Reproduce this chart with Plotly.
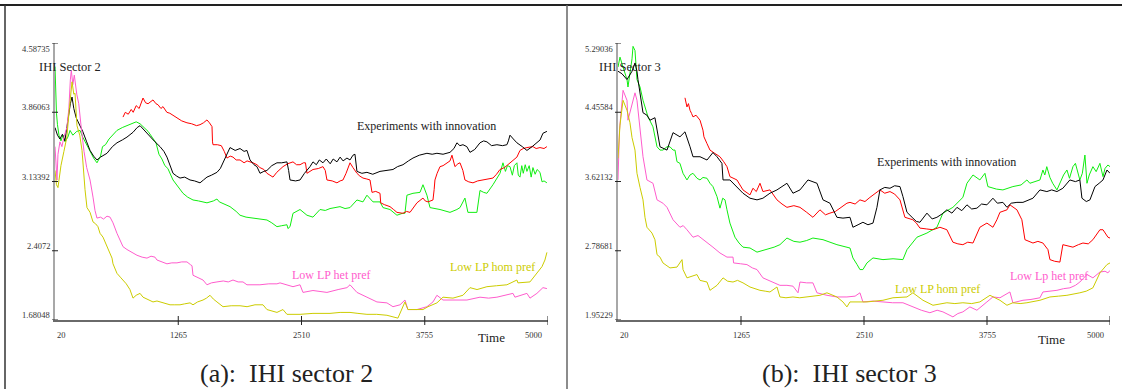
import plotly.graph_objects as go

W, H = 1122, 389

# ---------------- data: IHI sector 2 (time, index) ----------------
s2_innovation = [
    (20, 3.70), (45, 3.62), (70, 3.58), (95, 3.63), (120, 3.56), (150, 3.78), (175, 3.95), (192, 4.02),
    (210, 3.90), (235, 3.80), (273, 3.72), (300, 3.66), (340, 3.55), (374, 3.46), (410, 3.40), (444, 3.36),
    (480, 3.39), (515, 3.41), (545, 3.43), (600, 3.50), (646, 3.54), (700, 3.57), (747, 3.60), (808, 3.65),
    (850, 3.70), (879, 3.72), (930, 3.66), (980, 3.60), (1030, 3.55), (1081, 3.50), (1120, 3.45), (1151, 3.39),
    (1180, 3.30), (1212, 3.22), (1250, 3.19), (1283, 3.17), (1330, 3.18), (1384, 3.15), (1430, 3.14), (1485, 3.12),
    (1520, 3.15), (1555, 3.18), (1600, 3.20), (1656, 3.23), (1690, 3.27), (1717, 3.33), (1750, 3.42), (1788, 3.49),
    (1840, 3.46), (1889, 3.48), (1930, 3.45), (1959, 3.46), (1990, 3.36), (2030, 3.31), (2060, 3.29), (2091, 3.22),
    (2130, 3.24), (2161, 3.25), (2210, 3.30), (2262, 3.33), (2310, 3.33), (2363, 3.34), (2380, 3.25), (2394, 3.15),
    (2450, 3.14), (2495, 3.15), (2540, 3.22), (2596, 3.29), (2626, 3.34), (2660, 3.31), (2690, 3.36), (2727, 3.33),
    (2760, 3.37), (2800, 3.32), (2830, 3.37), (2868, 3.34), (2900, 3.39), (2930, 3.35), (2969, 3.38), (3000, 3.36),
    (3030, 3.41), (3050, 3.42), (3070, 3.24), (3120, 3.22), (3171, 3.23), (3230, 3.21), (3303, 3.24), (3370, 3.25),
    (3434, 3.26), (3480, 3.29), (3535, 3.31), (3590, 3.35), (3636, 3.38), (3700, 3.41), (3777, 3.43), (3830, 3.42),
    (3878, 3.43), (3940, 3.42), (4010, 3.44), (4050, 3.48), (4080, 3.54), (4110, 3.51), (4141, 3.52), (4180, 3.50),
    (4212, 3.44), (4260, 3.47), (4313, 3.54), (4350, 3.56), (4383, 3.55), (4430, 3.51), (4484, 3.52), (4540, 3.51),
    (4585, 3.52), (4600, 3.56), (4616, 3.62), (4650, 3.58), (4686, 3.54), (4740, 3.50), (4787, 3.46), (4840, 3.50),
    (4888, 3.54), (4920, 3.57), (4949, 3.64), (4989, 3.66),
]

s2_red_run = [
    (707, 3.81), (730, 3.86), (760, 3.84), (790, 3.89), (810, 3.86), (840, 3.93), (870, 3.90), (909, 4.01),
    (935, 3.96), (960, 3.95), (1010, 3.99), (1040, 3.95), (1060, 3.94), (1090, 3.90), (1111, 3.92), (1150, 3.86),
    (1180, 3.85), (1212, 3.83), (1250, 3.80), (1300, 3.77), (1353, 3.75), (1400, 3.74), (1450, 3.72), (1485, 3.73),
    (1520, 3.75), (1555, 3.78), (1580, 3.75), (1606, 3.71), (1611, 3.55), (1616, 3.52), (1660, 3.52), (1700, 3.51),
    (1730, 3.45), (1757, 3.38), (1790, 3.40), (1818, 3.39), (1850, 3.36), (1889, 3.36), (1930, 3.33), (1960, 3.35),
    (2020, 3.33), (2060, 3.31), (2090, 3.28), (2130, 3.26), (2161, 3.22), (2222, 3.18), (2260, 3.23), (2323, 3.29),
    (2370, 3.32), (2424, 3.34), (2460, 3.31), (2495, 3.31), (2530, 3.33), (2550, 3.33), (2565, 3.22), (2600, 3.24),
    (2626, 3.26), (2680, 3.27), (2727, 3.29), (2750, 3.25), (2767, 3.15), (2820, 3.14), (2868, 3.12), (2900, 3.14),
    (2929, 3.15), (2960, 3.22), (3000, 3.33), (3030, 3.28), (3070, 3.22), (3100, 3.19), (3131, 3.17), (3170, 3.16),
    (3202, 3.15), (3222, 3.02), (3260, 3.03), (3303, 3.01), (3310, 2.91), (3350, 2.89), (3404, 2.87), (3440, 2.84),
    (3474, 2.81), (3535, 2.80), (3570, 2.82), (3606, 2.81), (3640, 2.86), (3676, 2.91), (3737, 2.96), (3760, 2.93),
    (3788, 2.92), (3838, 2.94), (3850, 3.05), (3858, 3.15), (3880, 3.22), (3909, 3.29), (3940, 3.30), (3979, 3.33),
    (4010, 3.35), (4030, 3.41), (4045, 3.33), (4060, 3.29), (4090, 3.32), (4111, 3.33), (4140, 3.25), (4161, 3.15),
    (4200, 3.13), (4242, 3.12), (4290, 3.14), (4343, 3.15), (4400, 3.16), (4444, 3.17), (4480, 3.21), (4515, 3.26),
    (4560, 3.28), (4616, 3.33), (4660, 3.37), (4686, 3.39), (4717, 3.46), (4750, 3.48), (4787, 3.49), (4848, 3.50),
    (4880, 3.48), (4919, 3.49), (4960, 3.48), (4989, 3.50),
]

s2_green_run = [
    (20, 4.34), (25, 4.10), (35, 3.85), (45, 3.73), (60, 3.62), (80, 3.56), (100, 3.62), (121, 3.55),
    (150, 3.60), (172, 3.67), (200, 3.62), (240, 3.66), (273, 3.67), (300, 3.60), (340, 3.52), (374, 3.44),
    (410, 3.38), (444, 3.33), (480, 3.40), (500, 3.50), (530, 3.52), (566, 3.58), (600, 3.62), (646, 3.67),
    (700, 3.70), (747, 3.72), (808, 3.75), (840, 3.76), (879, 3.74), (920, 3.70), (960, 3.66), (1000, 3.60),
    (1040, 3.54), (1070, 3.42), (1100, 3.37), (1130, 3.30), (1160, 3.27), (1212, 3.15), (1260, 3.08), (1313, 3.01),
    (1360, 2.97), (1414, 2.94), (1470, 2.93), (1555, 2.91), (1620, 2.93), (1656, 2.95), (1680, 2.92), (1750, 2.89),
    (1788, 2.87), (1850, 2.82), (1889, 2.78), (1950, 2.76), (2020, 2.75), (2090, 2.74), (2161, 2.73), (2210, 2.70),
    (2262, 2.66), (2310, 2.67), (2363, 2.68), (2373, 2.64), (2394, 2.66), (2424, 2.80), (2495, 2.84), (2565, 2.78),
    (2626, 2.76), (2697, 2.84), (2750, 2.83), (2798, 2.85), (2850, 2.86), (2899, 2.87), (2950, 2.85), (3000, 2.86),
    (3070, 2.94), (3131, 2.92), (3171, 2.99), (3232, 2.92), (3303, 2.92), (3333, 2.86), (3404, 2.84), (3474, 2.78),
    (3530, 2.80), (3555, 2.80), (3575, 2.99), (3636, 3.01), (3707, 3.02), (3737, 3.10), (3777, 2.99), (3808, 2.86),
    (3909, 2.84), (4010, 2.81), (4080, 2.84), (4111, 2.86), (4161, 2.96), (4191, 2.81), (4282, 2.81), (4313, 3.04),
    (4350, 3.02), (4383, 3.01), (4444, 3.10), (4480, 3.16), (4515, 3.22), (4545, 3.33), (4570, 3.24), (4590, 3.30),
    (4616, 3.29), (4640, 3.20), (4660, 3.30), (4686, 3.33), (4700, 3.20), (4717, 3.18), (4735, 3.30), (4750, 3.22),
    (4770, 3.31), (4787, 3.24), (4810, 3.30), (4830, 3.18), (4848, 3.28), (4870, 3.21), (4890, 3.26), (4919, 3.23),
    (4940, 3.13), (4960, 3.14), (4989, 3.12),
]

s2_low_lp_het = [
    (20, 3.50), (30, 3.35), (40, 3.15), (50, 3.42), (70, 3.55), (90, 3.50), (110, 3.60), (140, 3.70),
    (160, 3.90), (175, 4.20), (185, 4.30), (200, 4.15), (215, 4.25), (240, 4.05), (260, 3.95), (285, 3.70),
    (300, 3.55), (313, 3.45), (340, 3.28), (374, 3.15), (404, 2.97), (424, 2.83), (444, 2.75), (480, 2.76),
    (510, 2.74), (545, 2.77), (576, 2.76), (606, 2.70), (646, 2.59), (680, 2.52), (707, 2.45), (747, 2.42),
    (800, 2.39), (848, 2.36), (900, 2.34), (949, 2.33), (990, 2.35), (1030, 2.34), (1050, 2.31), (1100, 2.29),
    (1151, 2.27), (1200, 2.28), (1252, 2.28), (1300, 2.29), (1353, 2.29), (1390, 2.26), (1404, 2.25), (1414, 2.15),
    (1460, 2.13), (1515, 2.10), (1555, 2.05), (1600, 2.07), (1656, 2.08), (1720, 2.09), (1770, 2.08), (1818, 2.10),
    (1870, 2.08), (1919, 2.08), (1959, 2.05), (2020, 2.05), (2090, 2.05), (2180, 2.06), (2262, 2.06), (2293, 2.07),
    (2350, 2.05), (2424, 2.03), (2495, 2.05), (2525, 1.97), (2626, 1.99), (2700, 1.98), (2767, 1.97), (2880, 2.00),
    (2969, 2.02), (3000, 2.05), (3070, 1.97), (3171, 1.92), (3272, 1.87), (3373, 1.86), (3434, 1.82), (3505, 1.84),
    (3555, 1.89), (3585, 1.79), (3676, 1.79), (3777, 1.82), (3838, 1.87), (3878, 1.94), (3939, 1.89), (4040, 1.89),
    (4181, 1.89), (4313, 1.92), (4400, 1.91), (4484, 1.92), (4560, 1.94), (4646, 1.96), (4666, 1.92), (4730, 1.94),
    (4787, 1.96), (4818, 1.91), (4888, 1.96), (4949, 2.02), (4989, 2.01),
]

s2_low_lp_hom = [
    (20, 3.25), (35, 3.10), (50, 3.07), (80, 3.30), (110, 3.45), (140, 3.60), (165, 3.90), (192, 4.18),
    (210, 4.05), (222, 4.06), (242, 3.72), (270, 3.62), (293, 3.46), (303, 3.29), (323, 3.05), (343, 2.86),
    (374, 2.81), (404, 2.71), (430, 2.69), (454, 2.66), (475, 2.59), (505, 2.55), (545, 2.45), (575, 2.38),
    (596, 2.33), (606, 2.27), (626, 2.22), (646, 2.17), (680, 2.13), (707, 2.10), (740, 2.06), (777, 2.00),
    (808, 1.91), (840, 1.94), (879, 1.96), (909, 1.92), (950, 1.90), (1010, 1.87), (1050, 1.88), (1081, 1.87),
    (1130, 1.85), (1182, 1.84), (1230, 1.84), (1283, 1.84), (1330, 1.85), (1384, 1.86), (1414, 1.84), (1460, 1.87),
    (1515, 1.89), (1550, 1.91), (1586, 1.94), (1620, 1.90), (1656, 1.87), (1717, 1.82), (1800, 1.83), (1889, 1.83),
    (1960, 1.82), (2040, 1.84), (2121, 1.84), (2161, 1.79), (2262, 1.76), (2323, 1.79), (2363, 1.74), (2440, 1.74),
    (2495, 1.74), (2626, 1.75), (2798, 1.75), (2900, 1.76), (3000, 1.76), (3080, 1.75), (3171, 1.74), (3270, 1.74),
    (3373, 1.73), (3484, 1.70), (3505, 1.75), (3555, 1.87), (3585, 1.79), (3636, 1.79), (3737, 1.79), (3788, 1.82),
    (3878, 1.86), (3939, 1.92), (4040, 1.91), (4141, 1.94), (4212, 2.02), (4283, 2.00), (4383, 2.03), (4480, 2.04),
    (4585, 2.05), (4686, 2.10), (4696, 2.07), (4818, 2.08), (4888, 2.17), (4939, 2.24), (4969, 2.31), (4989, 2.39),
]

# ---------------- data: IHI sector 3 (time, index) ----------------
s3_innovation = [
    (20, 4.95), (60, 4.92), (111, 4.85), (162, 4.95), (192, 5.05), (212, 4.95), (222, 4.85), (273, 4.45),
    (313, 4.42), (344, 4.36), (394, 4.39), (415, 4.24), (430, 4.16), (445, 4.04), (516, 4.00), (577, 4.21),
    (647, 4.16), (698, 4.22), (749, 4.04), (779, 3.92), (850, 3.92), (921, 3.88), (981, 3.97), (1022, 3.92),
    (1072, 3.84), (1083, 3.64), (1153, 3.64), (1224, 3.56), (1285, 3.48), (1356, 3.42), (1427, 3.40), (1487, 3.42),
    (1558, 3.48), (1629, 3.52), (1680, 3.56), (1730, 3.60), (1791, 3.48), (1862, 3.52), (1943, 3.64), (2034, 3.60),
    (2095, 3.40), (2165, 3.36), (2236, 3.19), (2297, 3.18), (2368, 3.19), (2398, 3.07), (2450, 3.10), (2499, 3.13),
    (2550, 3.10), (2601, 3.12), (2641, 3.31), (2671, 3.52), (2720, 3.55), (2773, 3.54), (2820, 3.57), (2874, 3.56),
    (2904, 3.44), (2945, 3.25), (3005, 3.18), (3040, 3.14), (3076, 3.13), (3147, 3.24), (3200, 3.17), (3248, 3.19),
    (3300, 3.23), (3349, 3.28), (3400, 3.24), (3451, 3.31), (3500, 3.27), (3552, 3.34), (3600, 3.29), (3653, 3.30),
    (3700, 3.35), (3754, 3.34), (3815, 3.42), (3860, 3.36), (3916, 3.37), (3957, 3.31), (4000, 3.36), (4058, 3.37),
    (4119, 3.37), (4170, 3.40), (4220, 3.42), (4291, 3.52), (4361, 3.50), (4410, 3.52), (4463, 3.50), (4523, 3.54),
    (4594, 3.64), (4650, 3.62), (4695, 3.64), (4716, 3.42), (4760, 3.38), (4797, 3.40), (4848, 3.56), (4890, 3.60),
    (4929, 3.64), (4969, 3.76), (5000, 3.72),
]

s3_red_run = [
    (698, 4.63), (708, 4.55), (718, 4.52), (733, 4.56), (749, 4.48), (765, 4.44), (779, 4.40), (810, 4.42),
    (850, 4.36), (880, 4.24), (890, 4.16), (920, 4.08), (951, 4.00), (1000, 3.96), (1052, 3.92), (1090, 3.86),
    (1123, 3.80), (1153, 3.68), (1224, 3.64), (1285, 3.52), (1356, 3.46), (1386, 3.54), (1420, 3.50), (1457, 3.60),
    (1487, 3.50), (1558, 3.52), (1600, 3.44), (1629, 3.40), (1680, 3.35), (1730, 3.31), (1800, 3.33), (1862, 3.31),
    (1930, 3.25), (1993, 3.19), (2064, 3.28), (2120, 3.22), (2165, 3.24), (2220, 3.26), (2267, 3.30), (2337, 3.36),
    (2368, 3.37), (2420, 3.35), (2469, 3.40), (2520, 3.38), (2570, 3.43), (2620, 3.47), (2671, 3.52), (2720, 3.48),
    (2773, 3.50), (2820, 3.47), (2874, 3.40), (2924, 3.19), (3005, 3.16), (3040, 3.12), (3076, 3.06), (3140, 3.05),
    (3208, 3.04), (3279, 3.07), (3349, 3.04), (3410, 2.89), (3460, 2.87), (3511, 2.86), (3560, 2.89), (3613, 2.88),
    (3683, 3.07), (3754, 3.12), (3815, 3.07), (3855, 3.16), (3886, 3.25), (3957, 3.28), (3987, 3.34), (4058, 3.28),
    (4108, 3.16), (4139, 2.92), (4220, 2.88), (4270, 2.90), (4321, 2.88), (4372, 2.80), (4392, 2.68), (4440, 2.66),
    (4493, 2.65), (4523, 2.86), (4580, 2.84), (4625, 2.83), (4680, 2.86), (4726, 2.88), (4780, 2.87), (4827, 2.92),
    (4898, 3.04), (4929, 3.04), (4979, 2.95), (5000, 2.94),
]

s3_green_run = [
    (20, 5.00), (40, 5.12), (71, 5.00), (111, 4.85), (121, 4.76), (141, 4.90), (162, 5.10), (172, 5.25),
    (182, 5.22), (192, 5.20), (212, 4.85), (243, 4.76), (273, 4.60), (324, 4.40), (374, 4.28), (415, 4.04),
    (445, 4.00), (475, 4.00), (516, 4.04), (546, 4.04), (577, 4.00), (597, 4.00), (617, 3.86), (647, 3.84),
    (678, 3.72), (718, 3.64), (749, 3.70), (779, 3.72), (820, 3.66), (850, 3.64), (880, 3.67), (921, 3.66),
    (951, 3.60), (981, 3.56), (1022, 3.44), (1052, 3.30), (1080, 3.42), (1103, 3.40), (1123, 3.28), (1153, 3.12),
    (1204, 2.95), (1245, 2.88), (1285, 2.83), (1356, 2.82), (1427, 2.77), (1528, 2.80), (1600, 2.83), (1659, 2.86),
    (1730, 2.94), (1800, 2.90), (1862, 2.89), (1930, 2.91), (1993, 2.94), (2095, 2.92), (2165, 2.89), (2236, 2.86),
    (2368, 2.82), (2398, 2.70), (2440, 2.62), (2469, 2.56), (2499, 2.56), (2540, 2.64), (2601, 2.70), (2702, 2.68),
    (2804, 2.69), (2904, 2.68), (2945, 2.80), (3046, 2.95), (3147, 3.00), (3248, 3.07), (3309, 3.24), (3410, 3.31),
    (3511, 3.43), (3552, 3.60), (3613, 3.70), (3683, 3.64), (3734, 3.72), (3764, 3.56), (3850, 3.53), (3916, 3.52),
    (4017, 3.56), (4100, 3.58), (4159, 3.64), (4189, 3.60), (4291, 3.64), (4321, 3.76), (4340, 3.70), (4360, 3.80),
    (4392, 3.67), (4420, 3.60), (4463, 3.52), (4493, 3.60), (4530, 3.70), (4564, 3.76), (4590, 3.66), (4625, 3.80),
    (4650, 3.84), (4695, 3.64), (4720, 3.72), (4746, 3.94), (4767, 3.60), (4790, 3.70), (4827, 3.80), (4860, 3.74),
    (4898, 3.84), (4929, 3.68), (4950, 3.78), (4979, 3.82), (5000, 3.80),
]

s3_low_lp_het = [
    (20, 3.64), (25, 4.00), (35, 4.24), (71, 4.72), (111, 4.60), (121, 4.36), (162, 4.57), (192, 4.69),
    (212, 4.60), (233, 4.36), (253, 4.10), (273, 3.92), (313, 3.64), (374, 3.60), (415, 3.40), (475, 3.36),
    (516, 3.31), (577, 3.16), (647, 3.07), (680, 3.09), (718, 3.04), (779, 2.95), (830, 2.97), (880, 2.92),
    (930, 2.88), (981, 2.83), (1052, 2.76), (1123, 2.71), (1184, 2.71), (1190, 2.64), (1260, 2.63), (1325, 2.62),
    (1380, 2.58), (1427, 2.56), (1487, 2.46), (1540, 2.43), (1589, 2.40), (1659, 2.37), (1730, 2.37), (1791, 2.36),
    (1842, 2.28), (1862, 2.41), (1930, 2.40), (1993, 2.40), (2034, 2.28), (2135, 2.25), (2236, 2.23), (2337, 2.23),
    (2420, 2.24), (2469, 2.28), (2499, 2.17), (2600, 2.18), (2702, 2.17), (2800, 2.16), (2904, 2.16), (3005, 2.11),
    (3090, 2.07), (3177, 2.04), (3250, 2.07), (3309, 2.05), (3360, 2.02), (3410, 1.99), (3460, 2.03), (3511, 2.05),
    (3582, 2.11), (3653, 2.07), (3754, 2.17), (3815, 2.23), (3886, 2.22), (3950, 2.26), (3987, 2.29), (4017, 2.16),
    (4119, 2.19), (4200, 2.20), (4291, 2.22), (4321, 2.29), (4390, 2.30), (4463, 2.31), (4530, 2.33), (4594, 2.34),
    (4650, 2.37), (4695, 2.41), (4767, 2.50), (4827, 2.46), (4898, 2.53), (4950, 2.54), (4979, 2.52), (5000, 2.55),
]

s3_low_lp_hom = [
    (20, 3.90), (40, 4.30), (71, 4.60), (111, 4.48), (141, 4.33), (162, 4.15), (192, 4.00), (212, 3.72),
    (243, 3.55), (273, 3.40), (293, 3.19), (313, 3.07), (364, 3.00), (394, 2.92), (415, 2.74), (445, 2.71),
    (475, 2.64), (546, 2.58), (617, 2.59), (668, 2.68), (678, 2.56), (718, 2.46), (819, 2.50), (850, 2.43),
    (921, 2.41), (951, 2.31), (1022, 2.37), (1083, 2.46), (1130, 2.42), (1184, 2.41), (1230, 2.43), (1285, 2.40),
    (1356, 2.35), (1400, 2.33), (1457, 2.31), (1510, 2.30), (1558, 2.29), (1629, 2.35), (1659, 2.23), (1720, 2.22),
    (1791, 2.23), (1860, 2.22), (1933, 2.23), (2000, 2.24), (2064, 2.25), (2135, 2.28), (2236, 2.23), (2297, 2.17),
    (2337, 2.11), (2368, 2.17), (2450, 2.17), (2540, 2.17), (2620, 2.18), (2702, 2.19), (2803, 2.22), (2945, 2.23),
    (3005, 2.28), (3107, 2.19), (3208, 2.13), (3280, 2.15), (3349, 2.16), (3430, 2.15), (3511, 2.16), (3600, 2.15),
    (3683, 2.17), (3785, 2.25), (3886, 2.19), (3957, 2.13), (4017, 2.16), (4090, 2.15), (4159, 2.16), (4291, 2.19),
    (4392, 2.23), (4480, 2.24), (4564, 2.25), (4695, 2.28), (4760, 2.30), (4827, 2.34), (4898, 2.52), (4969, 2.62),
    (5000, 2.64),
]

# ---------------- axis ticks ----------------
time_ticks = [20, 1265, 2510, 3755, 5000]
s2_ticks = [1.68048, 2.4072, 3.13392, 3.86063, 4.58735]
s2_tick_text = ["1.68048", "2.4072", "3.13392", "3.86063", "4.58735"]
s3_ticks = [1.95229, 2.78681, 3.62132, 4.45584, 5.29036]
s3_tick_text = ["1.95229", "2.78681", "3.62132", "4.45584", "5.29036"]

BLACK, RED, GREEN, PINK, OLIVE = "#000000", "#ff0000", "#10ee10", "#ff5ccd", "#cccc00"
SERIF = "Liberation Serif"

panels = [
    dict(
        x_px=(55, 548), ticks=s2_ticks, tick_text=s2_tick_text,
        series=[("green", s2_green_run, GREEN), ("red", s2_red_run, RED),
                ("Experiments with innovation", s2_innovation, BLACK),
                ("Low LP het pref", s2_low_lp_het, PINK), ("Low LP hom pref", s2_low_lp_hom, OLIVE)],
        labels=[("IHI Sector 2", 37, 67, "#222222", 12.5, "left"),
                ("Experiments with innovation", 426, 126, "#222222", 12, "center"),
                ("Low LP het pref", 331, 275, PINK, 12, "center"),
                ("Low LP hom pref", 492, 267, OLIVE, 12, "center"),
                ("Time", 491, 337, "#222222", 13, "center")],
        caption=("(a):\u00a0 IHI sector 2", 286),
    ),
    dict(
        x_px=(618, 1110), ticks=s3_ticks, tick_text=s3_tick_text,
        series=[("green", s3_green_run, GREEN), ("red", s3_red_run, RED),
                ("Experiments with innovation", s3_innovation, BLACK),
                ("Low Lp het pref", s3_low_lp_het, PINK), ("Low LP hom pref", s3_low_lp_hom, OLIVE)],
        labels=[("IHI Sector 3", 597, 67, "#222222", 12.5, "left"),
                ("Experiments with innovation", 946, 162, "#222222", 12, "center"),
                ("Low Lp het pref", 1049, 276, PINK, 12, "center"),
                ("Low LP hom pref", 937, 289, OLIVE, 12, "center"),
                ("Time", 1051, 339, "#222222", 13, "center")],
        caption=("(b):\u00a0 IHI sector 3", 849),
    ),
]

PLOT_TOP, PLOT_BOTTOM = 43, 320

fig = go.Figure()
layout_axes, shapes, annotations = {}, [], []

for i, panel in enumerate(panels):
    sfx = "" if i == 0 else str(i + 1)
    xa, ya = "x" + sfx, "y" + sfx
    left_px, right_px = panel["x_px"]
    yt = panel["ticks"]

    layout_axes["xaxis" + sfx] = dict(
        domain=[left_px / W, right_px / W], range=[time_ticks[0], time_ticks[-1]], anchor=ya,
        showline=True, linecolor="#6a6a6a", linewidth=1.5, showgrid=False, zeroline=False,
        showticklabels=False, ticks="", fixedrange=True,
    )
    layout_axes["yaxis" + sfx] = dict(
        domain=[1 - PLOT_BOTTOM / H, 1 - PLOT_TOP / H], range=[yt[0], yt[-1]], anchor=xa,
        showline=True, linecolor="#a8a8a8", linewidth=1.5, showgrid=False, zeroline=False,
        showticklabels=False, ticks="", fixedrange=True,
    )

    for name, data, color in panel["series"]:
        fig.add_trace(go.Scatter(
            x=[p[0] for p in data], y=[p[1] for p in data], mode="lines", name=name,
            line=dict(color=color, width=1), xaxis=xa, yaxis=ya,
            hoverinfo="skip", showlegend=False,
        ))

    # time ticks crossing the axis line, labels below
    for t in time_ticks:
        if t != time_ticks[0]:
            shapes.append(dict(type="line", xref=xa, yref="paper", x0=t, x1=t,
                               y0=1 - (PLOT_BOTTOM + 5) / H, y1=1 - (PLOT_BOTTOM - 4) / H,
                               line=dict(color="#222222", width=1)))
        anchor, shift = "center", 0
        if t == time_ticks[0]:
            anchor = "left"
        elif t == time_ticks[-1]:
            anchor, shift = "right", -4
        annotations.append(dict(text=str(t), xref=xa, yref="paper", x=t, y=1 - 335 / H,
                                xanchor=anchor, yanchor="middle", xshift=shift, showarrow=False,
                                font=dict(family=SERIF, size=8.5, color="#333333")))

    # value ticks crossing the axis line, labels to the left
    for k, (v, txt) in enumerate(zip(yt, panel["tick_text"])):
        shapes.append(dict(type="line", xref="paper", yref=ya, x0=(left_px - 3) / W, x1=(left_px + 3) / W,
                           y0=v, y1=v, line=dict(color="#222222", width=1)))
        annotations.append(dict(text=txt, xref="paper", yref=ya, x=(left_px - 3) / W, y=v,
                                xanchor="right", yanchor="middle", yshift=(-6 if k == len(yt) - 1 else 5),
                                showarrow=False, font=dict(family=SERIF, size=8.5, color="#333333")))

    for text, px, py, color, size, anchor in panel["labels"]:
        annotations.append(dict(text=text, xref="paper", yref="paper", x=px / W, y=1 - py / H,
                                xanchor=anchor, yanchor="middle", showarrow=False,
                                font=dict(family=SERIF, size=size, color=color)))

    cap_text, cap_x = panel["caption"]
    annotations.append(dict(text=cap_text, xref="paper", yref="paper", x=cap_x / W, y=1 - 373 / H,
                            xanchor="center", yanchor="middle", showarrow=False,
                            font=dict(family=SERIF, size=26, color="#222222")))

# table rules around the two sub-figures
shapes += [
    dict(type="line", xref="paper", yref="paper", x0=0, x1=1, y0=1 - 5 / H, y1=1 - 5 / H,
         line=dict(color="#222222", width=2)),
    dict(type="line", xref="paper", yref="paper", x0=5 / W, x1=5 / W, y0=0, y1=1 - 5 / H,
         line=dict(color="#333333", width=1.5)),
    dict(type="line", xref="paper", yref="paper", x0=567 / W, x1=567 / W, y0=0, y1=1 - 5 / H,
         line=dict(color="#666666", width=1.5)),
]

fig.update_layout(
    width=W, height=H, margin=dict(l=0, r=0, t=0, b=0),
    paper_bgcolor="white", plot_bgcolor="white",
    shapes=shapes, annotations=annotations, showlegend=False,
    **layout_axes,
)

fig.write_html("out.html", config={"displayModeBar": False})
